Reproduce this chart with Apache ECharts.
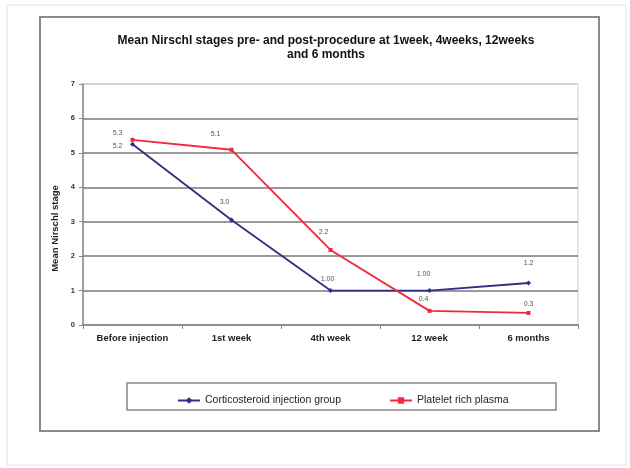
<!DOCTYPE html>
<html>
<head>
<meta charset="utf-8">
<script src="https://cdn.jsdelivr.net/npm/echarts@6/dist/echarts.min.js"></script>
<style>
html,body{margin:0;padding:0;background:#fff;}
#chart{width:630px;height:468px;}
</style>
</head>
<body>
<div id="chart"></div>
<script>
const categories = ['Before injection', '1st week', '4th week', '12 week', '6 months'];
const corticoValues = [5.25, 3.05, 1.0, 1.0, 1.22];
const corticoLabels = ['5.2', '3.0', '1.00', '1.00', '1.2'];
const prpValues = [5.38, 5.09, 2.18, 0.41, 0.35];
const prpLabels = ['5.3', '5.1', '2.2', '0.4', '0.3'];
const seriesNames = ['Corticosteroid injection group', 'Platelet rich plasma'];
const titleText = 'Mean Nirschl stages pre- and post-procedure at 1week, 4weeks, 12weeks\nand 6 months';
const yAxisName = 'Mean Nirschl stage';

const corticoOffsets = [[-15, 2], [-7, -18], [-3, -12], [-6, -17], [0, -20]];
const prpOffsets = [[-15, -7], [-16, -16], [-7, -18], [-6, -12], [0, -9]];

const FONT = 'Liberation Sans, Arial, sans-serif';

function build(vals, labels, offs) {
  return vals.map((v, i) => ({
    value: v,
    label: { formatter: labels[i], offset: offs[i] }
  }));
}

const chart = echarts.init(document.getElementById('chart'), null, { renderer: 'canvas' });
chart.setOption({
  backgroundColor: '#fff',
  animation: false,
  title: {
    text: titleText,
    left: 321,
    textAlign: 'center',
    top: 29,
    textStyle: { fontFamily: FONT, fontSize: 12, fontWeight: 'bold', color: '#111', lineHeight: 14 }
  },
  graphic: [
    { type: 'rect', shape: { x: 7, y: 5, width: 619, height: 460 }, style: { fill: 'none', stroke: '#e2e2e2', lineWidth: 1 }, silent: true, z: -10 },
    { type: 'rect', shape: { x: 40, y: 17, width: 559, height: 414 }, style: { fill: 'none', stroke: '#8a8a8a', lineWidth: 2 }, silent: true, z: -9 },
    { type: 'rect', shape: { x: 127, y: 383, width: 429, height: 27 }, style: { fill: 'none', stroke: '#888', lineWidth: 1.5 }, silent: true, z: -8 }
  ],
  legend: {
    left: 172,
    top: 390,
    itemGap: 48,
    itemWidth: 22,
    itemHeight: 8,
    textStyle: { fontFamily: FONT, fontSize: 10.5, color: '#222' },
    data: seriesNames
  },
  grid: { left: 83, right: 52, top: 84, bottom: 143, show: true, borderColor: '#d0d0d0', borderWidth: 1 },
  xAxis: {
    type: 'category',
    data: categories,
    boundaryGap: true,
    axisLine: { lineStyle: { color: '#888', width: 1.5 } },
    axisTick: { show: true, length: 4, lineStyle: { color: '#888' } },
    axisLabel: { fontFamily: FONT, fontSize: 9.5, fontWeight: 'bold', color: '#222', margin: 8 }
  },
  yAxis: {
    type: 'value',
    min: 0, max: 7, interval: 1,
    name: yAxisName,
    nameLocation: 'middle',
    nameRotate: 90,
    nameGap: 23,
    nameTextStyle: { fontFamily: FONT, fontSize: 9.5, fontWeight: 'bold', color: '#222', padding: [0, 48, 0, 0] },
    axisLine: { show: true, lineStyle: { color: '#888', width: 1.5 } },
    axisTick: { show: true, length: 4, lineStyle: { color: '#888' } },
    axisLabel: { fontFamily: FONT, fontSize: 7.5, fontWeight: 'bold', color: '#333', margin: 8 },
    splitLine: { show: true, lineStyle: { color: ['#888', '#777', '#777', '#777', '#777', '#777', '#777', '#ccc'], width: 1.5 } }
  },
  series: [
    {
      name: seriesNames[0],
      type: 'line',
      data: build(corticoValues, corticoLabels, corticoOffsets),
      color: '#2f2f86',
      symbol: 'diamond',
      symbolSize: 5,
      showAllSymbol: true,
      lineStyle: { width: 1.8, color: '#2f2f86' },
      itemStyle: { color: '#2f2f86' },
      label: { show: true, position: 'inside', fontFamily: FONT, fontSize: 7, color: '#555' },
      z: 3
    },
    {
      name: seriesNames[1],
      type: 'line',
      data: build(prpValues, prpLabels, prpOffsets),
      color: '#f2283c',
      symbol: 'rect',
      symbolSize: 4,
      showAllSymbol: true,
      lineStyle: { width: 1.8, color: '#f2283c' },
      itemStyle: { color: '#f2283c' },
      label: { show: true, position: 'inside', fontFamily: FONT, fontSize: 7, color: '#555' },
      z: 4
    }
  ]
});
</script>
</body>
</html>
